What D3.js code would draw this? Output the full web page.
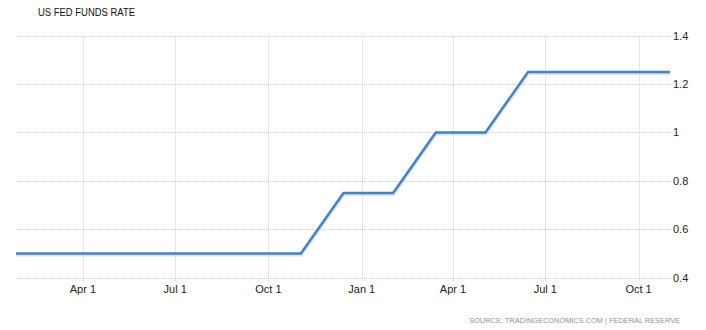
<!DOCTYPE html>
<html>
<head>
<meta charset="utf-8">
<script src="https://cdn.jsdelivr.net/npm/d3@7"></script>
<style>
  html, body { margin: 0; padding: 0; background: #fff; }
  svg { display: block; font-family: "Liberation Sans", Arial, sans-serif; }
</style>
</head>
<body>
<svg id="chart" width="706" height="330"></svg>
<script>
const title = "US FED FUNDS RATE";
const source = "SOURCE: TRADINGECONOMICS.COM | FEDERAL RESERVE";
const dates = ["2016-01-26","2016-03-16","2016-04-27","2016-06-15","2016-07-27","2016-09-21","2016-11-02",
               "2016-12-14","2017-02-01","2017-03-15","2017-05-03","2017-06-14","2017-07-26","2017-09-20","2017-11-01"];
const rates = [0.5,0.5,0.5,0.5,0.5,0.5,0.5,0.75,0.75,1.0,1.0,1.25,1.25,1.25,1.25];
const yTicks = [0.4,0.6,0.8,1,1.2,1.4];
const xTickDates = ["2016-04-01","2016-07-01","2016-10-01","2017-01-01","2017-04-01","2017-07-01","2017-10-01"];

const parse = d3.utcParse("%Y-%m-%d");
const data = dates.map((d,i) => ({date: parse(d), value: rates[i]}));

const svg = d3.select("#chart");
const mLeft = 16, mRight = 670, mTop = 35.7, mBottom = 277.7;

const x = d3.scaleUtc().domain(d3.extent(data, d => d.date)).range([mLeft, mRight]);
const y = d3.scaleLinear().domain([0.4, 1.4]).range([mBottom, mTop]);

// horizontal grid
svg.append("g").selectAll("line").data(yTicks).join("line")
  .attr("x1", mLeft).attr("x2", mRight + 1)
  .attr("y1", d => Math.round(y(d)) + 0.5).attr("y2", d => Math.round(y(d)) + 0.5)
  .attr("stroke", "#cccccc").attr("stroke-width", 1).attr("stroke-dasharray", "1,1");

// vertical grid
const xt = xTickDates.map(parse);
svg.append("g").selectAll("line").data(xt).join("line")
  .attr("x1", d => Math.round(x(d)) + 0.5).attr("x2", d => Math.round(x(d)) + 0.5)
  .attr("y1", mTop).attr("y2", mBottom + 4)
  .attr("stroke", "#cccccc").attr("stroke-width", 1).attr("stroke-dasharray", "1,1");

// y labels (right)
svg.append("g").selectAll("text").data(yTicks).join("text")
  .attr("x", 673).attr("y", d => y(d))
  .attr("dy", "0.35em")
  .attr("font-size", 11).attr("fill", "#222")
  .text(d => d3.format("")(d));

// x labels
const fmt = d3.utcFormat("%b %-d");
svg.append("g").selectAll("text").data(xt).join("text")
  .attr("x", d => x(d)).attr("y", 289.5)
  .attr("dy", "0.35em").attr("text-anchor", "middle")
  .attr("font-size", 11).attr("fill", "#222")
  .text(d => fmt(d));

// line shadow + line
const line = d3.line().x(d => x(d.date)).y(d => y(d.value));
svg.append("path").datum(data)
  .attr("d", line).attr("fill", "none")
  .attr("stroke", "#aac3dd").attr("stroke-width", 4).attr("stroke-opacity", 0.5)
  .attr("transform", "translate(0,1)");
svg.append("path").datum(data)
  .attr("d", line).attr("fill", "none")
  .attr("stroke", "#4a82b8").attr("stroke-width", 2.4)
  .attr("stroke-linejoin", "round");

// title
svg.append("text").attr("x", 38).attr("y", 16)
  .attr("font-size", 11.5).attr("fill", "#111")
  .attr("textLength", 97).attr("lengthAdjust", "spacingAndGlyphs")
  .text(title);

// source
svg.append("text").attr("x", 680).attr("y", 323)
  .attr("text-anchor", "end")
  .attr("font-size", 7.4).attr("fill", "#8a93a0")
  .text(source);
</script>
</body>
</html>
